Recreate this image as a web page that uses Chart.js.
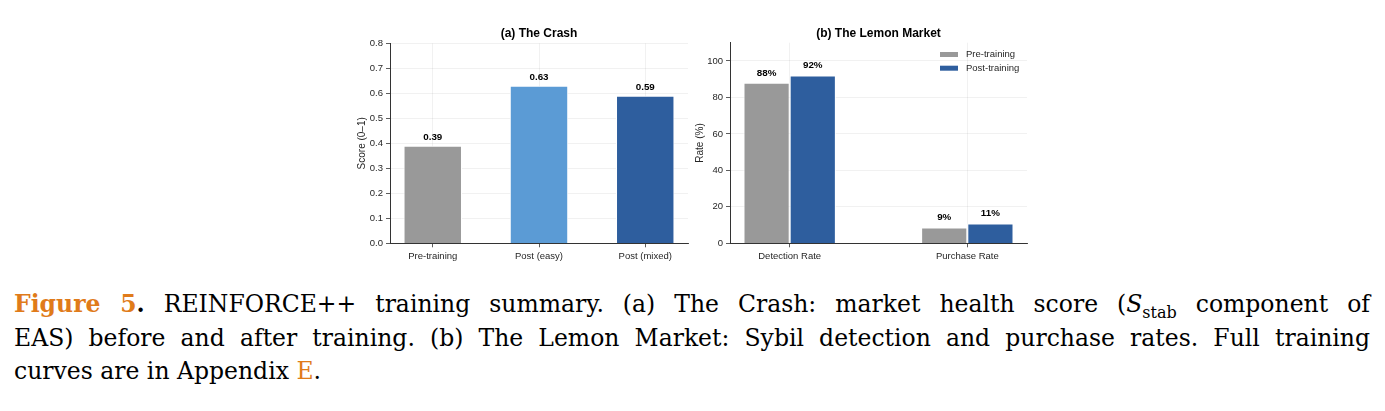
<!DOCTYPE html>
<html>
<head>
<meta charset="utf-8">
<script src="https://cdn.jsdelivr.net/npm/chart.js@4.4.1/dist/chart.umd.min.js"></script>
<style>
html, body { margin: 0; padding: 0; background: #fff; width: 1385px; height: 411px; overflow: hidden; }
canvas { position: absolute; }
#crash { left: 340px; top: 20px; }
#lemon { left: 690px; top: 20px; }
#capt { position: absolute; left: 14px; top: 288px; width: 1356px; font-family: "DejaVu Serif", "Liberation Serif", serif; font-size: 23.5px; color: #000; }
.ln { height: 33.5px; line-height: 33.5px; }
.j { text-align: justify; text-align-last: justify; }
.fig { color: #e07b1a; font-weight: bold; }
.ref { color: #e07b1a; }
sub { font-size: 16px; line-height: 0; }
</style>
</head>
<body>
<canvas id="crash" width="350" height="250"></canvas>
<canvas id="lemon" width="350" height="250"></canvas>
<div id="capt">
  <div class="ln j"><span class="fig">Figure 5</span><b>.</b> REINFORCE++ training summary. (a) The Crash: market health score (<i>S</i><sub>stab</sub> component of</div>
  <div class="ln j">EAS) before and after training. (b) The Lemon Market: Sybil detection and purchase rates. Full training</div>
  <div class="ln">curves are in Appendix <span class="ref">E</span>.</div>
</div>
<script>
// panel (a) data
var crashLabels = ['Pre-training', 'Post (easy)', 'Post (mixed)'];
var crashScores = [0.39, 0.63, 0.59];
var crashColors = ['#999999', '#5b9bd5', '#2e5e9e'];
var crashTicks = [0, 0.1, 0.2, 0.3, 0.4, 0.5, 0.6, 0.7, 0.8];

// panel (b) data
var lemonLabels = ['Detection Rate', 'Purchase Rate'];
var lemonSeries = ['Pre-training', 'Post-training'];
var lemonPre = [88, 8.7];
var lemonPost = [92, 10.8];
var lemonColors = ['#999999', '#2e5e9e'];
var lemonTicks = [0, 20, 40, 60, 80, 100];

var sans = "'Liberation Sans', Arial, sans-serif";
var tickFont = { family: sans, size: 9.5 };
var textColor = '#262626';
var gridColor = 'rgba(0,0,0,0.07)';

// title over the plot area
var panelTitle = {
  id: 'panelTitle',
  afterDraw: function(chart, args, opts) {
    var ctx = chart.ctx, a = chart.chartArea;
    ctx.save();
    ctx.font = 'bold 12px ' + sans;
    ctx.fillStyle = '#000';
    ctx.textAlign = 'center';
    ctx.textBaseline = 'middle';
    ctx.fillText(opts.text, (a.left + a.right) / 2, 13.5);
    ctx.restore();
  }
};

// numbers above bars
var valueLabels = {
  id: 'valueLabels',
  afterDatasetsDraw: function(chart, args, opts) {
    var ctx = chart.ctx;
    ctx.save();
    ctx.font = 'bold 9.8px ' + sans;
    ctx.fillStyle = '#000';
    ctx.textAlign = 'center';
    ctx.textBaseline = 'bottom';
    chart.data.datasets.forEach(function(ds, di) {
      chart.getDatasetMeta(di).data.forEach(function(bar, i) {
        ctx.fillText(opts.format(ds.data[i].y), bar.x, bar.y - opts.gap);
      });
    });
    ctx.restore();
  }
};

// legend box in the upper right
var boxLegend = {
  id: 'boxLegend',
  afterDraw: function(chart, args, opts) {
    if (!opts.show) return;
    var ctx = chart.ctx;
    ctx.save();
    ctx.font = '9.5px ' + sans;
    ctx.textBaseline = 'middle';
    chart.data.datasets.forEach(function(ds, i) {
      var y = opts.y + i * 13.7;
      ctx.fillStyle = ds.backgroundColor;
      ctx.fillRect(opts.x, y - 2.5, 18, 5);
      ctx.fillStyle = textColor;
      ctx.fillText(ds.label, opts.x + 26, y);
    });
    ctx.restore();
  }
};

function xAxis(labels, min, max) {
  return {
    type: 'linear', min: min, max: max, offset: false,
    afterBuildTicks: function(ax) { ax.ticks = labels.map(function(l, i) { return { value: i }; }); },
    afterFit: function(ax) { ax.height = 20; },
    ticks: { callback: function(v) { return labels[v]; }, font: tickFont, color: textColor, padding: 3, maxRotation: 0, autoSkip: false },
    grid: { offset: false, color: gridColor, lineWidth: 0.8, tickColor: '#333', tickLength: 4 },
    border: { color: '#333', width: 1 }
  };
}

function yAxis(ticks, max, width, title, fmt) {
  return {
    min: 0, max: max,
    afterBuildTicks: function(ax) { ax.ticks = ticks.map(function(t) { return { value: t }; }); },
    afterFit: function(ax) { ax.width = width; },
    ticks: { callback: fmt, font: tickFont, color: textColor, padding: 3 },
    grid: { color: gridColor, lineWidth: 0.8, tickColor: '#333', tickLength: 4 },
    border: { color: '#333', width: 1 },
    title: { display: true, text: title, font: { family: sans, size: 10 }, color: textColor, padding: { top: 4, bottom: 0 } }
  };
}

new Chart(document.getElementById('crash'), {
  type: 'bar',
  data: {
    datasets: [{
      data: crashScores.map(function(v, i) { return { x: i, y: v }; }),
      backgroundColor: crashColors,
      borderColor: '#fff',
      borderWidth: 1,
      barPercentage: 1,
      categoryPercentage: 0.55
    }]
  },
  options: {
    responsive: false, animation: false, devicePixelRatio: 1,
    layout: { padding: { left: 12, right: 2, top: 23.3, bottom: 6.7 } },
    plugins: {
      legend: { display: false }, tooltip: { enabled: false },
      panelTitle: { text: '(a) The Crash' },
      valueLabels: { gap: 4, format: function(v) { return v.toFixed(2); } },
      boxLegend: { show: false }
    },
    scales: {
      x: xAxis(crashLabels, -0.4025, 2.4025),
      y: yAxis(crashTicks, 0.8, 38, 'Score (0\u20131)', function(v) { return v.toFixed(1); })
    }
  },
  plugins: [panelTitle, valueLabels, boxLegend]
});

new Chart(document.getElementById('lemon'), {
  type: 'bar',
  data: {
    datasets: [lemonPre, lemonPost].map(function(vals, k) {
      return {
        label: lemonSeries[k],
        data: vals.map(function(v, i) { return { x: i, y: v }; }),
        backgroundColor: lemonColors[k],
        borderColor: '#fff',
        borderWidth: 1,
        barPercentage: 1,
        categoryPercentage: 0.52
      };
    })
  },
  options: {
    responsive: false, animation: false, devicePixelRatio: 1,
    layout: { padding: { left: 0, right: 13, top: 22.7, bottom: 6.7 } },
    plugins: {
      legend: { display: false }, tooltip: { enabled: false },
      panelTitle: { text: '(b) The Lemon Market' },
      valueLabels: { gap: 5, format: function(v) { return Math.round(v) + '%'; } },
      boxLegend: { show: true, x: 250, y: 34.5 }
    },
    scales: {
      x: xAxis(lemonLabels, -0.336, 1.336),
      y: yAxis(lemonTicks, 110, 40, 'Rate (%)', function(v) { return v; })
    }
  },
  plugins: [panelTitle, valueLabels, boxLegend]
});
</script>
</body>
</html>
